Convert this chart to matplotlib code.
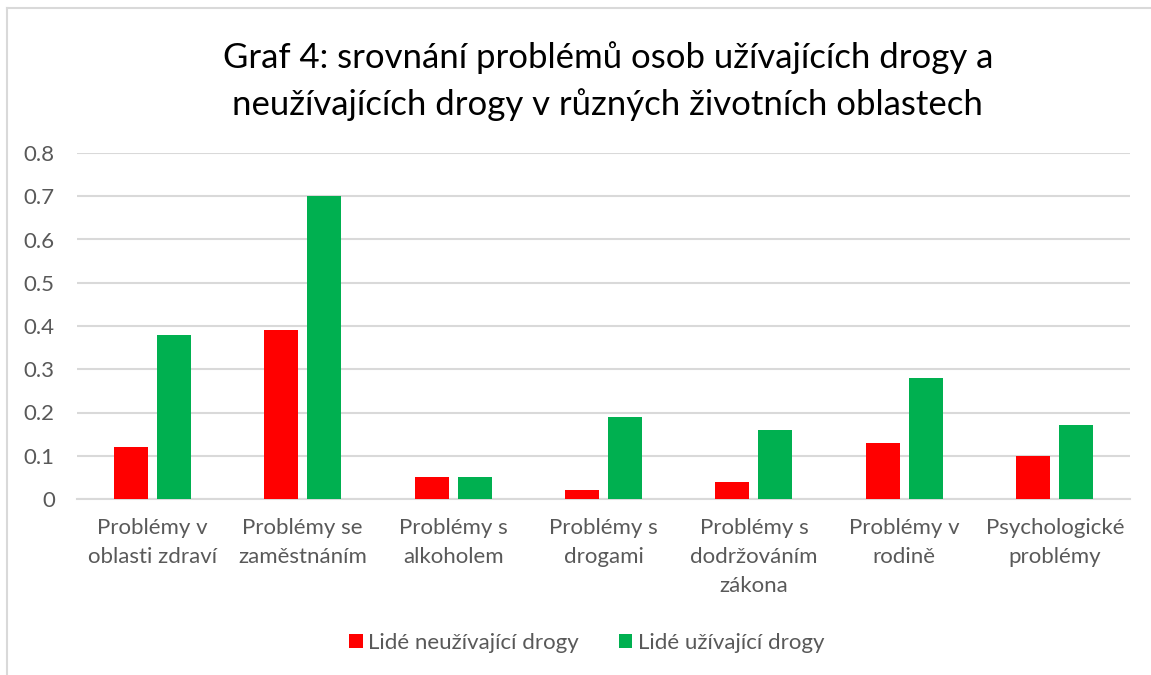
import matplotlib
matplotlib.use('Agg')
from matplotlib import pyplot as plt
import numpy as np

plt.rcParams['font.family'] = ['Lato', 'DejaVu Sans']

categories = ['Problémy v\noblasti zdraví', 'Problémy se\nzaměstnáním', 'Problémy s\nalkoholem',
              'Problémy s\ndrogami', 'Problémy s\ndodržováním\nzákona', 'Problémy v\nrodině',
              'Psychologické\nproblémy']
neuzivajici = [0.12, 0.39, 0.05, 0.02, 0.04, 0.13, 0.10]
uzivajici = [0.38, 0.70, 0.05, 0.19, 0.16, 0.28, 0.17]
series_names = ['Lidé neužívající drogy', 'Lidé užívající drogy']
title = 'Graf 4: srovnání problémů osob užívajících drogy a\nneužívajících drogy v různých životních oblastech'

txt = '#595959'
grid = '#d9d9d9'

fig = plt.figure(figsize=(11.51, 6.75), dpi=100)
# chart frame like the excel one (only top/left visible)
fig.add_artist(plt.Line2D([7/1151, 7/1151], [0, 1 - 8/675], color=grid, lw=1.5))
fig.add_artist(plt.Line2D([7/1151, 1], [1 - 8/675, 1 - 8/675], color=grid, lw=1.5))

ax = fig.add_axes([77/1151, 1 - 499/675, (1130 - 77)/1151, (499 - 153)/675])
x = np.arange(len(categories))
w = 0.226
ax.bar(x - 0.143, neuzivajici, w, color='#ff0000', label=series_names[0], zorder=3)
ax.bar(x + 0.143, uzivajici, w, color='#00b050', label=series_names[1], zorder=3)

ax.set_xlim(-0.5, len(categories) - 0.5)
ax.set_ylim(0, 0.8)
ax.set_yticks(np.arange(0, 0.81, 0.1))
ax.set_yticklabels(['0'] + [f'{v:.1f}' for v in np.arange(0.1, 0.81, 0.1)])
ax.set_xticks(x)
ax.set_xticklabels(categories, linespacing=1.55)
ax.tick_params(axis='both', length=0, labelsize=16, colors=txt)
ax.tick_params(axis='x', pad=14)
ax.tick_params(axis='y', pad=16)
ax.grid(axis='y', color=grid, lw=1.5, zorder=0)
for s in ['top', 'right', 'left']:
    ax.spines[s].set_visible(False)
ax.spines['bottom'].set_color(grid)
ax.spines['bottom'].set_linewidth(1.5)

fig.text(0.528, 1 - 81/675, title, ha='center', va='center', fontsize=25, color='black',
         linespacing=1.5)

fig.legend(loc='center', bbox_to_anchor=(0.51, 1 - 643/675), ncol=2, frameon=False,
           fontsize=16, labelcolor=txt, handlelength=0.6, handleheight=0.6,
           handletextpad=0.25, columnspacing=1.8)

fig.savefig('out.png', dpi=100)
